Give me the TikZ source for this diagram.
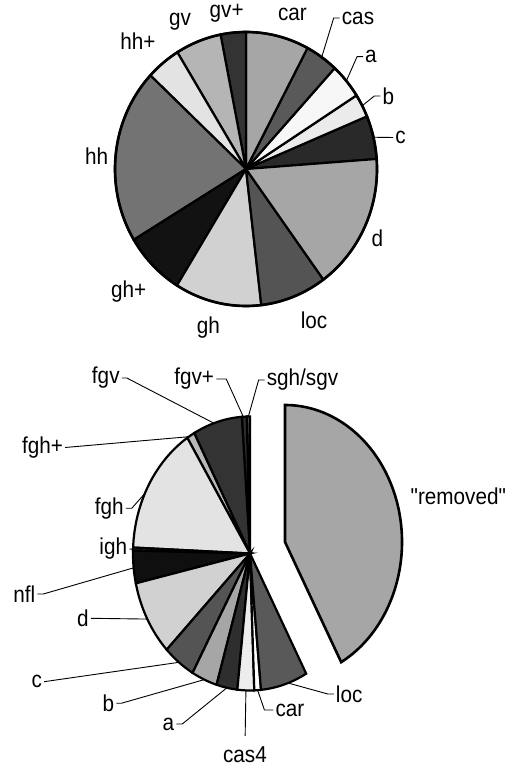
\documentclass[tikz,border=0pt]{standalone}
\usepackage{fontspec}
\setmainfont{Liberation Sans}[FakeStretch=0.9, Ligatures=TeXOff]
\usetikzlibrary{calc}

\begin{document}
\begin{tikzpicture}[
    x=1pt, y=1pt,
    slice/.style={
        draw=black,
        line width=2.2pt
    },
    lbl/.style={
        font=\fontsize{23}{27}\selectfont,
        inner sep=2pt
    },
    lead/.style={
        draw=black,
        line width=0.9pt
    }
]

\useasboundingbox (0,0) rectangle (516,769);

% Upper pie
\coordinate (top) at (246,600);
\foreach \a/\b/\c in {4.2/22.6/black!84, 22.6/32.5/black!8, 32.5/47.4/black!3,
    47.4/62/black!65, 62/90/black!35, 90/101.2/black!80, 101.2/121.6/black!29,
    121.6/136.9/black!11, 136.9/211.1/black!55, 211.1/238.2/black!93,
    238.2/276.7/black!18, 276.7/306.2/black!67, 306.2/364.2/black!35}
  \filldraw[slice, fill=\c] (top) -- ++(\a:131 and 137)
      arc[start angle=\a, end angle=\b, x radius=131, y radius=137] -- cycle;
\draw[line width=2.6pt] (top) ellipse[x radius=131, y radius=137];

% Lower pie
\coordinate (bot) at (250,215.5);
\foreach \a/\b/\c in {90/91.6/black!67, 91.6/94/black!82, 94/118.5/black!80,
    118.5/122.4/black!28, 122.4/177.5/black!11, 177.5/178.8/black!80,
    178.8/192.6/black!94, 192.6/224.6/black!18, 224.6/240.6/black!67,
    240.6/253.4/black!35, 253.4/263.8/black!82, 263.8/272.1/black!7,
    272.1/275.4/white, 275.4/298.7/black!65}
  \filldraw[slice, fill=\c] (bot) -- ++(\a:117 and 137)
      arc[start angle=\a, end angle=\b, x radius=117, y radius=137] -- cycle;

% Exploded slice
\coordinate (rem) at ($(bot)+(35,11.5)$);
\filldraw[slice, line width=2.6pt, fill=black!35] (rem) -- ++(298.7:117 and 137)
    arc[start angle=298.7, end angle=450, x radius=117, y radius=137] -- cycle;

% Upper labels
\node[lbl] (ucar) at (292.5,755) {car};
\node[lbl] (ucas) at (358,751) {cas};
\node[lbl] (ua) at (371,712.3) {a};
\node[lbl] (ub) at (388.3,673) {b};
\node[lbl] (uc) at (400.5,631.5) {c};
\node[lbl] (ud) at (377.5,531) {d};
\node[lbl] (uloc) at (314,449) {loc};
\node[lbl] (ugh) at (208.3,441) {gh};
\node[lbl] (ughp) at (128.7,477.3) {gh+};
\node[lbl] (uhh) at (96.7,613) {hh};
\node[lbl] (uhhp) at (138,728.2) {hh+};
\node[lbl] (ugv) at (180,747.3) {gv};
\node[lbl] (ugvp) at (226.7,755.7) {gv+};

\coordinate (ecas) at ($(top)+(54.7:131 and 137)$);
\coordinate (ea) at ($(top)+(40:131 and 137)$);
\coordinate (eb) at ($(top)+(27.5:131 and 137)$);
\coordinate (ec) at ($(top)+(13.4:131 and 137)$);

\draw[lead] (ucas.west) -- ++(-6,0) -- (ecas);
\draw[lead] (ua.west) -- ++(-6,0) -- (ea);
\draw[lead] (ub.west) -- ++(-6,0) -- (eb);
\draw[lead] (uc.west) -- (ec);

% Lower labels
\node[lbl] (lfgv) at (105.8,391) {fgv};
\node[lbl] (lfgvp) at (194.2,390) {fgv+};
\node[lbl] (lsgh) at (302.5,389) {sgh/sgv};
\node[lbl] (lfghp) at (42.5,321.5) {fgh+};
\node[lbl] (lfgh) at (109.2,260.7) {fgh};
\node[lbl] (ligh) at (113.3,220) {igh};
\node[lbl] (lnfl) at (24.2,175) {nfl};
\node[lbl] (ld) at (83,150.7) {d};
\node[lbl] (lc) at (36.7,87.3) {c};
\node[lbl] (lb) at (108.3,65.7) {b};
\node[lbl] (la) at (168.3,45) {a};
\node[lbl] (lcas) at (245,14) {cas4};
\node[lbl] (lcar) at (290,59) {car};
\node[lbl] (lloc) at (349.2,75) {loc};
\node[lbl] (lrem) at (458.3,272.3) {"removed"};

\coordinate (efgv) at ($(bot)+(108:117 and 137)$);
\coordinate (efgvp) at ($(bot)+(93.3:117 and 137)$);
\coordinate (esgh) at ($(bot)+(90.8:117 and 137)$);
\coordinate (efghp) at ($(bot)+(121.5:117 and 137)$);
\coordinate (efgh) at ($(bot)+(154:117 and 137)$);
\coordinate (eigh) at ($(bot)+(178.2:117 and 137)$);
\coordinate (enfl) at ($(bot)+(186:117 and 137)$);
\coordinate (ed) at ($(bot)+(208.6:117 and 137)$);
\coordinate (ec2) at ($(bot)+(232.6:117 and 137)$);
\coordinate (eb2) at ($(bot)+(247:117 and 137)$);
\coordinate (ea2) at ($(bot)+(258.6:117 and 137)$);
\coordinate (ecas4) at ($(bot)+(268:117 and 137)$);
\coordinate (ecar) at ($(bot)+(273.75:117 and 137)$);
\coordinate (eloc) at ($(bot)+(289:117 and 137)$);

\draw[lead] (lfgv.east) -- ++(5,0) -- (efgv);
\draw[lead] (lfgvp.east) -- ++(10,0) -- (efgvp);
\draw[lead] (lsgh.west) -- ++(-6,0) -- (esgh);
\draw[lead] (lfghp.east) -- (efghp);
\draw[lead] (lfgh.east) -- ++(6,0) -- (efgh);
\draw[lead] (ligh.east) -- (eigh);
\draw[lead] (lnfl.east) -- ++(6,0) -- (enfl);
\draw[lead] (ld.east) -- (ed);
\draw[lead] (lc.east) -- (ec2);
\draw[lead] (lb.east) -- ++(5,0) -- (eb2);
\draw[lead] (la.east) -- ++(6,0) -- (ea2);
\draw[lead, shorten <=9pt] (lcas.north) -- (ecas4);
\draw[lead] (lcar.west) -- ++(-9,0) -- (ecar);
\draw[lead] (lloc.west) -- ++(-6,0) -- (eloc);

\end{tikzpicture}
\end{document}
